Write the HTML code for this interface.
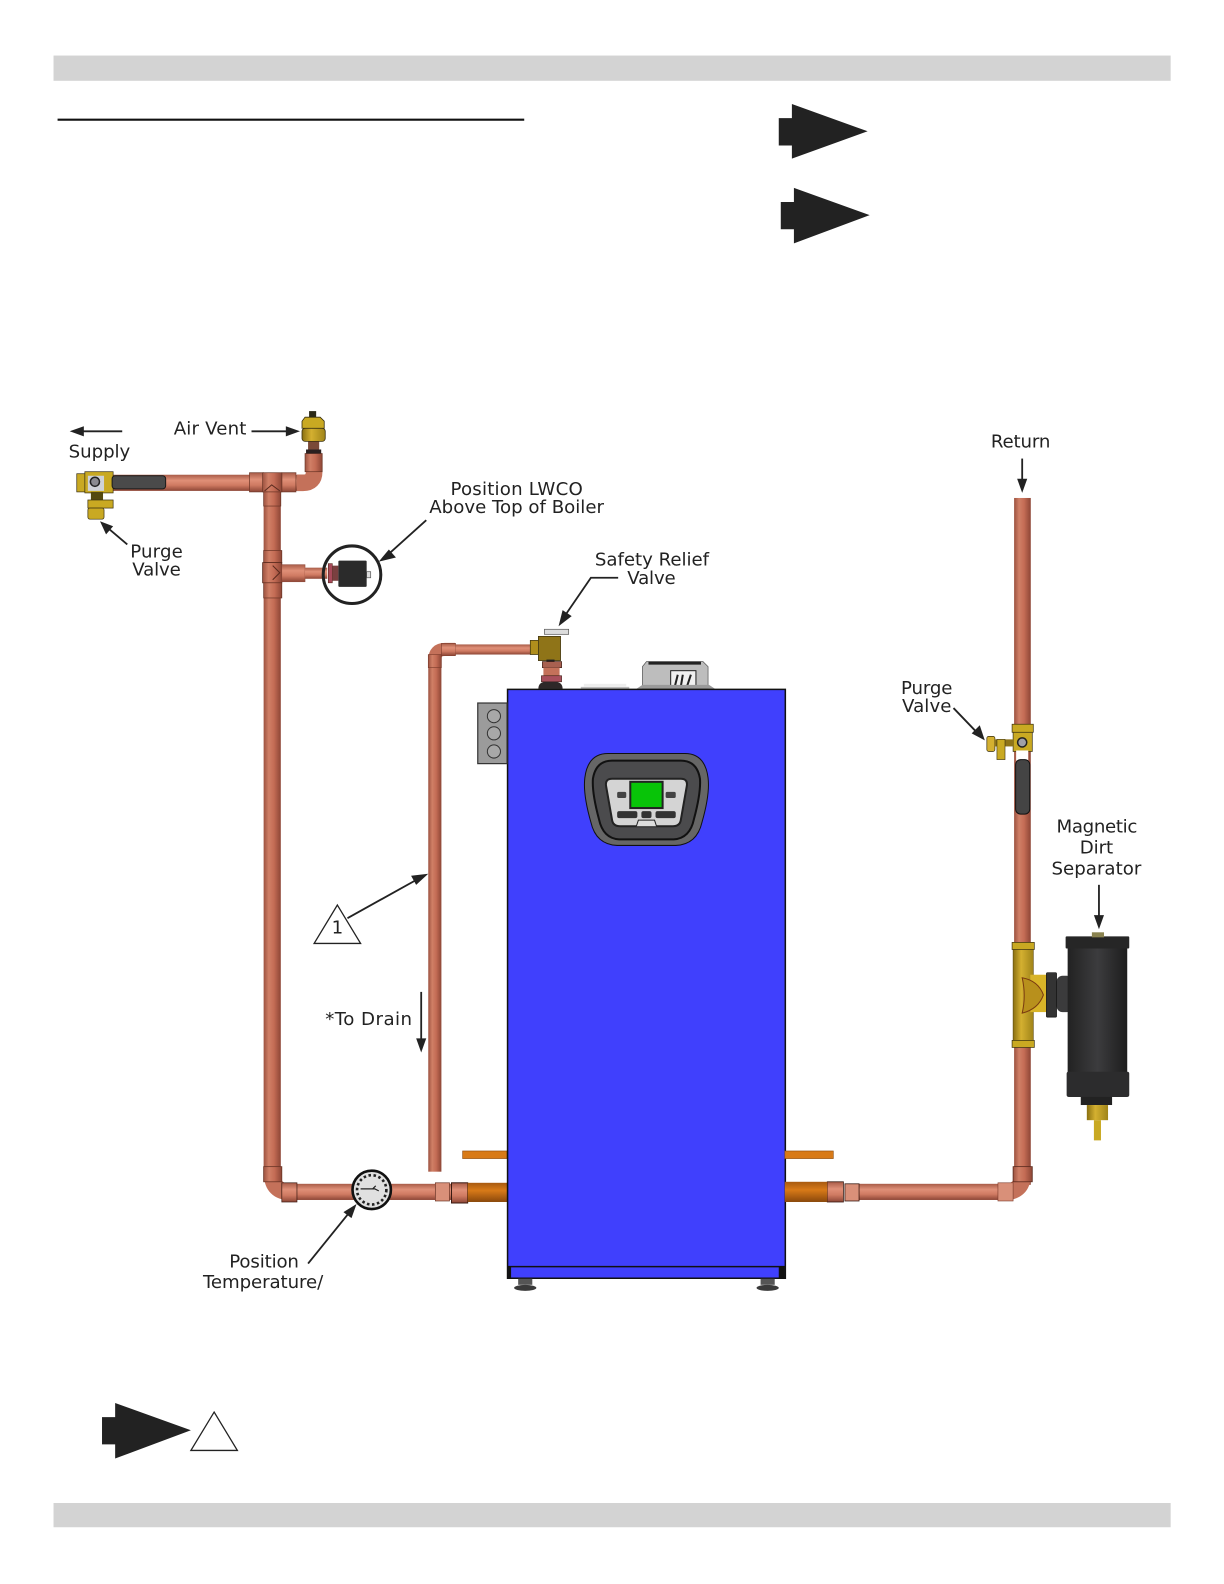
<!DOCTYPE html>
<html><head><meta charset="utf-8"><style>
html,body{margin:0;padding:0;background:#fff}
svg{display:block}
text{font-family:"DejaVu Sans",sans-serif;font-size:18px;fill:#222;text-anchor:middle}
</style></head><body>
<svg width="1224" height="1584" viewBox="0 0 1211.8 1568.2" preserveAspectRatio="none" xmlns="http://www.w3.org/2000/svg">
<defs>
<linearGradient id="pv" x1="0" x2="1" y1="0" y2="0"><stop offset="0" stop-color="#9c5240"/><stop offset=".3" stop-color="#d07f66"/><stop offset=".6" stop-color="#c46c55"/><stop offset="1" stop-color="#8d4636"/></linearGradient>
<linearGradient id="ph" x1="0" x2="0" y1="0" y2="1"><stop offset="0" stop-color="#a85c48"/><stop offset=".35" stop-color="#e09078"/><stop offset=".65" stop-color="#cf7a62"/><stop offset="1" stop-color="#8d4636"/></linearGradient>
<linearGradient id="or" x1="0" x2="0" y1="0" y2="1"><stop offset="0" stop-color="#a85a10"/><stop offset=".4" stop-color="#d87a18"/><stop offset="1" stop-color="#8a480c"/></linearGradient>
<linearGradient id="br" x1="0" x2="1" y1="0" y2="0"><stop offset="0" stop-color="#8a7010"/><stop offset=".4" stop-color="#d4b030"/><stop offset="1" stop-color="#a08418"/></linearGradient>
<linearGradient id="bk" x1="0" x2="1" y1="0" y2="0"><stop offset="0" stop-color="#222"/><stop offset=".5" stop-color="#3c3c3e"/><stop offset="1" stop-color="#1d1d1d"/></linearGradient>
</defs>

<!-- header / footer -->
<rect x="53" y="55" width="1106" height="25" fill="#d3d3d3"/>
<rect x="53" y="1488" width="1106" height="24" fill="#d3d3d3"/>
<line x1="57" y1="118.5" x2="519" y2="118.5" stroke="#111" stroke-width="2"/>

<!-- big arrows -->
<path d="M771 117h13v-14l75 27-75 27v-13h-13z" fill="#222"/>
<path d="M773 200h13v-14l75 27-75 28v-14h-13z" fill="#222"/>
<path d="M101 1403h13v-14l75 27-75 28v-14h-13z" fill="#222"/>
<polygon points="212,1398 235,1436 189,1436" fill="#fff" stroke="#222" stroke-width="1.3"/>

<!-- supply piping -->
<rect x="110" y="470" width="140" height="16" fill="url(#ph)"/>
<rect x="279" y="470" width="22" height="16" fill="url(#ph)"/>
<path d="M294 478 h6 q11 0 11 -11 v-8" fill="none" stroke="#c4715a" stroke-width="16.5"/>
<rect x="302" y="449" width="17" height="18" fill="url(#pv)" stroke="#6b3526" stroke-width=".7"/>
<rect x="247" y="468" width="14" height="19" fill="url(#ph)" stroke="#6b3526" stroke-width=".7"/>
<rect x="279" y="468" width="14" height="19" fill="url(#ph)" stroke="#6b3526" stroke-width=".7"/>
<rect x="261" y="486" width="17" height="675" fill="url(#pv)"/>
<rect x="260" y="468" width="19" height="19" fill="url(#pv)" stroke="#6b3526" stroke-width=".7"/>
<rect x="261" y="487" width="17" height="14" fill="url(#pv)" stroke="#6b3526" stroke-width=".7"/>
<path d="M262 486l7-6 8 6" fill="none" stroke="#5a2a1e" stroke-width="1"/>
<rect x="261" y="545" width="18" height="12" fill="url(#pv)" stroke="#6b3526" stroke-width=".7"/>
<rect x="260" y="557" width="19" height="20" fill="url(#pv)" stroke="#5a2a1e" stroke-width=".8"/>
<rect x="261" y="577" width="18" height="15" fill="url(#pv)" stroke="#6b3526" stroke-width=".7"/>
<path d="M270 560l7 7-7 7" fill="none" stroke="#5a2a1e"/>
<rect x="279" y="559" width="23" height="17" fill="url(#ph)" stroke="#8d4636" stroke-width=".5"/>
<rect x="302" y="562" width="22" height="11" fill="url(#ph)"/>
<rect x="325" y="558" width="4" height="19" fill="#a8495a" stroke="#5a2a1e" stroke-width=".6"/>
<rect x="329" y="560" width="6" height="15" fill="#7a4040"/>
<!-- air vent -->
<rect x="305" y="437" width="11" height="8" fill="#7a4a38"/>
<rect x="303" y="445" width="15" height="4" fill="#2a2020"/>
<rect x="299" y="424" width="23" height="13" rx="3" fill="url(#br)" stroke="#3a3010" stroke-width=".8"/>
<path d="M302 413h15l4 4v7h-22v-7z" fill="#c9a922" stroke="#3a3010" stroke-width=".8"/>
<rect x="306" y="407" width="7" height="6" fill="#2c2a18"/>
<!-- supply valve -->
<rect x="76" y="469" width="8" height="18" fill="#c9a922" stroke="#3a3010" stroke-width=".7"/>
<rect x="84" y="467" width="28" height="21" fill="#c9a922" stroke="#3a3010" stroke-width=".7"/>
<rect x="87" y="471" width="16" height="15" fill="#cfd2d8"/>
<circle cx="94" cy="477" r="4.5" fill="#8a8a90" stroke="#222" stroke-width="1.5"/>
<rect x="111" y="471" width="53" height="13" rx="3" fill="#4a4a4a" stroke="#1a1a1a" stroke-width="1"/>
<rect x="90" y="487" width="12" height="8" fill="#55490f"/>
<rect x="87" y="495" width="25" height="8" fill="#c9a922" stroke="#3a3010" stroke-width=".7"/>
<rect x="87" y="503" width="16" height="11" rx="2" fill="#c9a922" stroke="#3a3010" stroke-width=".7"/>
<!-- LWCO -->
<circle cx="348.5" cy="569" r="28.5" fill="none" stroke="#222" stroke-width="3"/>
<rect x="335" y="555" width="28" height="26" rx="1" fill="#2b2b2b"/>
<rect x="363" y="566" width="4" height="6" fill="#ddd" stroke="#555" stroke-width=".7"/>

<!-- bottom left pipe -->
<path d="M269.5 1162 q0 18 18 18" fill="none" stroke="#c4715a" stroke-width="16.5"/>
<rect x="261" y="1155" width="18" height="15" fill="url(#pv)" stroke="#6b3526" stroke-width=".8"/>
<rect x="282" y="1172" width="170" height="16" fill="url(#ph)"/>
<rect x="279" y="1171" width="15" height="19" fill="url(#ph)" stroke="#3a1a12" stroke-width=".7"/>
<rect x="431" y="1171" width="14" height="18" fill="#d99079" stroke="#6b3526" stroke-width=".7"/>
<rect x="447" y="1171" width="16" height="20" fill="url(#ph)" stroke="#3a1a12" stroke-width="1"/>
<rect x="463" y="1171" width="39" height="19" fill="url(#or)"/>
<rect x="458" y="1139.5" width="44" height="7.5" fill="#d87a18" stroke="#8a480c" stroke-width=".6"/>

<!-- relief pipe -->
<rect x="424" y="650" width="13" height="510" fill="url(#pv)"/>
<path d="M430.5 658 v-5 q0 -10 10 -10 h10" fill="none" stroke="#c4715a" stroke-width="13"/>
<rect x="424" y="648" width="13" height="13" fill="url(#pv)" stroke="#7a3a2a" stroke-width=".6"/>
<rect x="437" y="637" width="14" height="12" fill="url(#ph)" stroke="#7a3a2a" stroke-width=".6"/>
<rect x="451" y="638" width="78" height="10" fill="url(#ph)"/>
<!-- relief valve -->
<rect x="539" y="623" width="24" height="5" fill="#dcdcdc" stroke="#555" stroke-width=".7"/>
<rect x="525" y="634" width="10" height="14" fill="#b08e1c" stroke="#3a3010" stroke-width=".7"/>
<rect x="533" y="630" width="22" height="24" fill="#8f7418" stroke="#3a3010" stroke-width=".7"/>
<rect x="541" y="653" width="8" height="3" fill="#222"/>
<rect x="537" y="655" width="19" height="6" fill="#a86050" stroke="#402018" stroke-width=".7"/>
<rect x="538" y="661" width="16" height="8" fill="#c4715a"/>
<rect x="536" y="669" width="20" height="6" fill="#a84f5c" stroke="#402018" stroke-width=".6"/>
<path d="M533 682q0-6 6-7h12q6 1 6 7z" fill="#2e2828"/>

<!-- top of boiler -->
<rect x="575" y="680" width="48" height="2" fill="#bbb"/>
<rect x="578" y="677" width="42" height="3" fill="#eee"/>
<path d="M636 682v-22l4-5h56l5 5v22z" fill="#bdbdbd" stroke="#555" stroke-width=".7"/>
<rect x="642" y="655" width="52" height="3" fill="#222"/>
<rect x="664" y="664" width="25" height="17" fill="#f0f0f0" stroke="#222"/>
<path d="M668 680l3-12M674 680l2-12M680 680l4-12" stroke="#222" stroke-width="2"/>
<path d="M630 682l6-4h66l6 4z" fill="#9a9a9a"/>

<!-- boiler -->
<rect x="502.5" y="682.5" width="275" height="583" fill="#4040fd" stroke="#111" stroke-width="1.5"/>
<line x1="503" y1="1254" x2="777" y2="1254" stroke="#111" stroke-width="1.5"/>
<rect x="771" y="1254" width="6" height="12" fill="#111"/>
<rect x="503" y="1254" width="3" height="12" fill="#111"/>
<path d="M513 1266h14v6h-14z" fill="#555"/>
<ellipse cx="520" cy="1275" rx="11" ry="3" fill="#3a3a3a"/>
<path d="M753 1266h14v6h-14z" fill="#555"/>
<ellipse cx="760" cy="1275" rx="11" ry="3" fill="#3a3a3a"/>

<!-- junction box -->
<rect x="473" y="696" width="29" height="60" fill="#9b9b9b" stroke="#333" stroke-width="1.2"/>
<circle cx="489" cy="709" r="6.5" fill="#a8a8a8" stroke="#333"/>
<circle cx="489" cy="726" r="6.5" fill="#a8a8a8" stroke="#333"/>
<circle cx="489" cy="744" r="6.5" fill="#a8a8a8" stroke="#333"/>

<!-- control panel -->
<path d="M602 746h76q20 0 23 24 q2 16-6 44q-5 22-26 23h-58q-21-1-26-23q-8-28-6-44q3-24 23-24z" fill="#666" stroke="#111" stroke-width="1"/>
<path d="M606 753h68q16 0 19 18q1 14-6 40q-4 19-20 20h-54q-16-1-20-20q-7-26-6-40q3-18 19-18z" fill="#4b4b4d" stroke="#111" stroke-width="2"/>
<path d="M606 771h68q7 0 6 7l-6 34q-1 6-8 6h-52q-7 0-8-6l-6-34q-1-7 6-7z" fill="#d4d4d4" stroke="#222" stroke-width="2"/>
<rect x="624" y="774" width="32" height="26" fill="#08c408" stroke="#222" stroke-width="2"/>
<rect x="611" y="784" width="9" height="6" rx="1.5" fill="#444"/>
<rect x="659" y="784" width="10" height="6" rx="1.5" fill="#444"/>
<rect x="611" y="803" width="20" height="7" rx="2" fill="#333"/>
<rect x="635" y="803" width="10" height="7" rx="2" fill="#333"/>
<rect x="649" y="803" width="20" height="7" rx="2" fill="#333"/>
<path d="M630 818l2-6h16l2 6" fill="#ddd" stroke="#222"/>

<!-- return pipe -->
<rect x="1004" y="493" width="16.5" height="680" fill="url(#pv)"/>
<path d="M1012.3 1163 q0 17 -18 17" fill="none" stroke="#c4715a" stroke-width="16.5"/>
<rect x="1003" y="1155" width="19" height="15" fill="url(#pv)" stroke="#5a2a1e" stroke-width=".8"/>
<rect x="848" y="1172" width="145" height="16" fill="url(#ph)"/>
<rect x="988" y="1171" width="15" height="18" fill="#d99079" stroke="#7a3a2a" stroke-width=".6"/>
<rect x="836.5" y="1172" width="14" height="17" fill="#d99079" stroke="#3a1a12" stroke-width=".8"/>
<rect x="819" y="1170" width="16" height="20" fill="url(#ph)" stroke="#3a1a12" stroke-width=".8"/>
<rect x="777" y="1170" width="42" height="20" fill="url(#or)"/>
<rect x="777" y="1139.5" width="48" height="7.5" fill="#d87a18" stroke="#8a480c" stroke-width=".6"/>

<!-- return valve -->
<rect x="1002" y="717" width="21" height="8" fill="#c9a922" stroke="#3a3010" stroke-width=".7"/>
<rect x="1003" y="725" width="19" height="19" fill="#c9a922" stroke="#3a3010" stroke-width=".7"/>
<circle cx="1012" cy="735" r="4.5" fill="#a0a0a8" stroke="#222" stroke-width="1.5"/>
<rect x="1006" y="743" width="12" height="10" fill="#fff"/>
<rect x="1005.5" y="752" width="14" height="54" rx="5" fill="#444" stroke="#111"/>
<rect x="977" y="729" width="8" height="15" rx="2" fill="#d4b030" stroke="#3a3010" stroke-width=".7"/>
<rect x="985" y="732" width="18" height="7" fill="#8f7418"/>
<rect x="987" y="732" width="8" height="20" fill="#c9a922" stroke="#3a3010" stroke-width=".6"/>

<!-- brass tee -->
<rect x="1003" y="937" width="20" height="94" fill="url(#br)" stroke="#5a4808" stroke-width=".6"/>
<rect x="1002" y="933" width="22" height="7" fill="#c9a922" stroke="#3a3010" stroke-width=".7"/>
<rect x="1002" y="1030" width="22" height="7" fill="#c9a922" stroke="#3a3010" stroke-width=".7"/>
<rect x="1020" y="965" width="17" height="37" fill="#d8b428"/>
<path d="M1012 968q16 3 21 17q-5 14-21 18q4-17 0-35z" fill="#b8901c" stroke="#7a3a10"/>

<!-- separator -->
<rect x="1046" y="966" width="16" height="36" rx="6" fill="#3b3b3c"/>
<rect x="1036" y="963" width="10" height="44" rx="1" fill="#333" stroke="#111" stroke-width=".7"/>
<rect x="1057" y="938" width="59" height="134" fill="url(#bk)"/>
<rect x="1055" y="927" width="63" height="12" rx="1" fill="#262626"/>
<rect x="1081" y="923" width="12" height="5" fill="#8a8350"/>
<rect x="1056" y="1061" width="62" height="25" rx="2" fill="#2c2c2d"/>
<rect x="1072" y="1086" width="31" height="8" fill="#222" transform="translate(-2 0)"/>
<rect x="1076" y="1094" width="21" height="15" fill="url(#br)"/>
<rect x="1083" y="1109" width="7" height="20" fill="#c9a922"/>

<!-- gauge -->
<circle cx="368" cy="1178" r="19" fill="#e0e0e0" stroke="#111" stroke-width="2.6"/>
<circle cx="368" cy="1178" r="14.5" fill="none" stroke="#222" stroke-width="2.6" stroke-dasharray="2.5 2.5"/>
<path d="M357 1177h14l4 2M369 1177l3-3" fill="none" stroke="#222" stroke-width="1.2"/>

<!-- leaders -->
<g stroke="#222" stroke-width="1.8" fill="none">
<line x1="121" y1="427" x2="78" y2="427"/>
<line x1="249" y1="427" x2="288" y2="427"/>
<line x1="126" y1="539" x2="106" y2="522"/>
<line x1="422" y1="515" x2="382" y2="551"/>
<polyline points="612,572 585,572 559,610"/>
<line x1="944" y1="701" x2="968" y2="726"/>
<line x1="1012" y1="454" x2="1012" y2="480"/>
<line x1="1088" y1="876" x2="1088" y2="912"/>
<line x1="344" y1="909" x2="416" y2="869"/>
<line x1="417" y1="982" x2="417" y2="1034"/>
<line x1="305" y1="1251" x2="347" y2="1199"/>
</g>
<g fill="#222">
<polygon points="69,427 83,422 83,432"/>
<polygon points="297,427 283,422 283,432"/>
<polygon points="99,516 112,521 105,529"/>
<polygon points="375,556 385,544 392,552"/>
<polygon points="553,620 557,604 566,610"/>
<polygon points="975,733 962,726 970,718"/>
<polygon points="1012,488 1007,474 1017,474"/>
<polygon points="1088,920 1083,906 1093,906"/>
<polygon points="424,865 412,876 407,867"/>
<polygon points="417,1042 412,1028 422,1028"/>
<polygon points="353,1192 348,1206 340,1200"/>
</g>

<polygon points="334,896 357,934 311,934" fill="#fff" stroke="#222" stroke-width="1.3"/>

<!-- labels -->
<text x="98.500" y="453" textLength="61">Supply</text>
<text x="208" y="430" textLength="72">Air Vent</text>
<text x="155" y="552" textLength="52">Purge</text>
<text x="155" y="570" textLength="48">Valve</text>
<text x="511.500" y="490" textLength="131">Position LWCO</text>
<text x="511.500" y="508" textLength="173">Above Top of Boiler</text>
<text x="645.500" y="560" textLength="113">Safety Relief</text>
<text x="645" y="578" textLength="48">Valve</text>
<text x="1010.500" y="443" textLength="59">Return</text>
<text x="917.500" y="687" textLength="51">Purge</text>
<text x="917.500" y="705" textLength="49">Valve</text>
<text x="1086" y="824" textLength="80">Magnetic</text>
<text x="1085.500" y="845" textLength="33">Dirt</text>
<text x="1085.500" y="866" textLength="89">Separator</text>
<text x="334" y="924">1</text>
<text x="365" y="1015" textLength="86">*To Drain</text>
<text x="261.500" y="1255" textLength="69">Position</text>
<text x="260.500" y="1275" textLength="119">Temperature/</text>
</svg>
</body></html>
